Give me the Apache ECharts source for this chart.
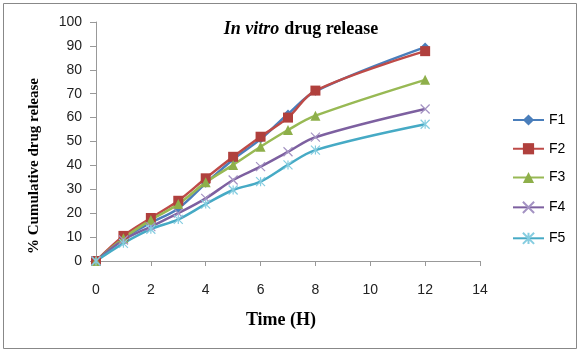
<!DOCTYPE html>
<html><head><meta charset="utf-8">
<script src="https://cdn.jsdelivr.net/npm/echarts@6/dist/echarts.min.js"></script>
<style>html,body{margin:0;padding:0;background:#fff}#c{width:581px;height:354px}</style>
</head><body><div id="c"></div>
<script>
var times = [0, 1, 2, 3, 4, 5, 6, 7, 8, 12];
var F1 = [0, 9.5, 16, 22, 32.5, 42.5, 51, 61.5, 71, 89.5];
var F2 = [0, 10.5, 18, 25.2, 34.6, 43.6, 52, 60, 71.3, 87.8];
var F3 = [0, 9.5, 17.2, 23.8, 32.9, 40.2, 47.8, 54.8, 60.8, 75.8];
var F4 = [0, 8.8, 14.4, 20, 26.2, 33.9, 39.5, 45.7, 51.8, 63.6];
var F5 = [0, 7.4, 13.3, 17.4, 23.8, 29.7, 33.2, 40.2, 46.4, 57.2];
var yTicks = [0, 10, 20, 30, 40, 50, 60, 70, 80, 90, 100];
var xTicks = [0, 2, 4, 6, 8, 10, 12, 14];

function pairs(v){ return times.map(function(t,i){ return [t, v[i]]; }); }
var xPath = 'path://M0,0L10,10M10,0L0,10';
var starPath = 'path://M5,0L5,10M0,0L10,10M10,0L0,10';

function ser(name, data, color, symbol, size, markerColor, stroke){
  var s = {
    name: name, type: 'line', smooth: 0.35, data: pairs(data),
    symbol: symbol, symbolSize: size,
    lineStyle: {color: color, width: 2.5},
    itemStyle: {color: markerColor || color},
    emphasis: {disabled: true}
  };
  if (stroke) { s.itemStyle = {color: 'none', borderColor: markerColor, borderWidth: 1.2}; }
  return s;
}

var chart = echarts.init(document.getElementById('c'), null, {renderer: 'canvas'});
chart.setOption({
  animation: false,
  backgroundColor: '#fff',
  graphic: [
    {type: 'rect', shape: {x: 3.5, y: 3.5, width: 573, height: 345}, style: {fill: 'none', stroke: '#888', lineWidth: 1}, z: -1},
    {type: 'text', x: 34, y: 166, rotation: Math.PI / 2,
      style: {text: '% Cumulative drug release', fontFamily: 'Liberation Serif', fontWeight: 'bold', fontSize: 15, fill: '#000', textAlign: 'center', textVerticalAlign: 'middle'}},
    {type: 'text', x: 281, y: 320,
      style: {text: 'Time (H)', fontFamily: 'Liberation Serif', fontWeight: 'bold', fontSize: 18, fill: '#000', textAlign: 'center', textVerticalAlign: 'middle'}}
  ],
  title: {
    text: '{i|In vitro} {b|drug release}',
    left: 301, top: 20, textAlign: 'center', padding: 0,
    textStyle: {rich: {
      i: {fontFamily: 'Liberation Serif', fontStyle: 'italic', fontWeight: 'bold', fontSize: 18, color: '#000'},
      b: {fontFamily: 'Liberation Serif', fontWeight: 'bold', fontSize: 18, color: '#000'}
    }}
  },
  legend: {
    orient: 'vertical', left: 512, top: 113, itemGap: 14.75, padding: 0,
    itemWidth: 31, itemHeight: 14,
    textStyle: {fontFamily: 'Liberation Sans', fontSize: 14, color: '#000'},
    data: ['F1', 'F2', 'F3', 'F4', 'F5']
  },
  grid: {left: 96, right: 101, top: 22, bottom: 93, containLabel: false},
  xAxis: {
    type: 'value', min: 0, max: 14, interval: 2,
    axisLine: {lineStyle: {color: '#999'}},
    axisTick: {show: true, length: 5, inside: false, lineStyle: {color: '#999'}},
    axisLabel: {fontFamily: 'Liberation Sans', fontSize: 14, color: '#222', margin: 22,
      formatter: function(v){ return xTicks.indexOf(v) >= 0 ? String(v) : ''; }},
    splitLine: {show: false}
  },
  yAxis: {
    type: 'value', min: 0, max: 100, interval: 10,
    axisLine: {show: true, lineStyle: {color: '#999'}},
    axisTick: {show: true, length: 6, lineStyle: {color: '#999'}},
    axisLabel: {fontFamily: 'Liberation Sans', fontSize: 14, color: '#222', margin: 14,
      formatter: function(v){ return yTicks.indexOf(v) >= 0 ? String(v) : ''; }},
    splitLine: {show: false}
  },
  series: [
    ser('F1', F1, '#4A7EBB', 'diamond', 9),
    ser('F2', F2, '#BE4B48', 'rect', 10, '#B0403D'),
    ser('F3', F3, '#98B954', 'triangle', 10, '#8EAF4A'),
    ser('F4', F4, '#7D60A0', xPath, 9, '#A493C3', true),
    ser('F5', F5, '#46AAC5', starPath, 9, '#86CDE0', true)
  ]
});
</script></body></html>
